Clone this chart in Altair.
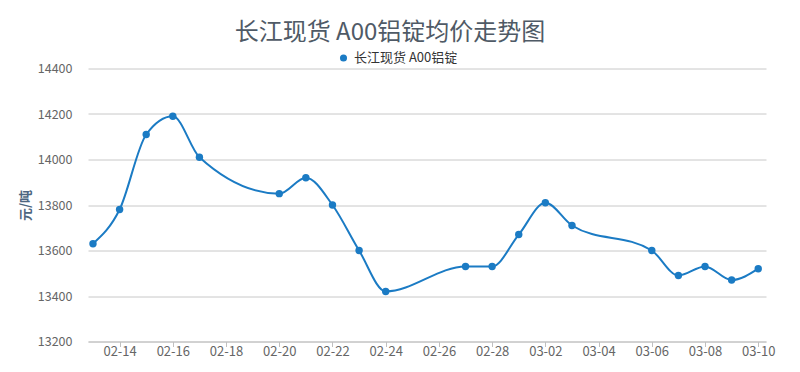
import altair as alt
import pandas as pd

dates = ["2017/02/13", "2017/02/14", "2017/02/15", "2017/02/16", "2017/02/17",
         "2017/02/20", "2017/02/21", "2017/02/22", "2017/02/23", "2017/02/24",
         "2017/02/27", "2017/02/28", "2017/03/01", "2017/03/02", "2017/03/03",
         "2017/03/06", "2017/03/07", "2017/03/08", "2017/03/09", "2017/03/10"]
prices = [13630, 13780, 14110, 14190, 14010,
          13850, 13920, 13800, 13600, 13420,
          13530, 13530, 13670, 13810, 13710,
          13600, 13490, 13530, 13470, 13520]
series_name = "长江现货 A00铝锭"
y_ticks = [13200, 13400, 13600, 13800, 14000, 14200, 14400]
x_tick_days = [(2, 14), (2, 16), (2, 18), (2, 20), (2, 22), (2, 24), (2, 26), (2, 28),
               (3, 2), (3, 4), (3, 6), (3, 8), (3, 10)]

df = pd.DataFrame({"date": dates, "price": prices, "series": [series_name] * len(dates)})

FONT = "Noto Sans CJK SC"
LINE_COLOR = "#1b7bc4"

x_enc = alt.X(
    "date:T",
    scale=alt.Scale(domain=[alt.DateTime(year=2017, month=2, date=12, hours=19, minutes=30),
                            alt.DateTime(year=2017, month=3, date=10, hours=7)]),
    axis=alt.Axis(
        title=None, format="%m-%d", grid=False,
        values=[alt.DateTime(year=2017, month=m, date=d) for m, d in x_tick_days],
        labelColor="#666666", labelFontSize=13, labelFont=FONT, labelPadding=-1,
        domainColor="#c0c0c0", tickColor="#c0c0c0", tickSize=5, labelFlush=False,
    ),
)
y_enc = alt.Y(
    "price:Q",
    scale=alt.Scale(domain=[13200, 14400], nice=False, zero=False),
    axis=alt.Axis(
        title="元/吨", titleColor="#4d6680", titleFontSize=13, titleFont=FONT,
        titleFontWeight="bold", titlePadding=5,
        values=y_ticks, format="d", labelColor="#666666", labelFontSize=12.5, labelFont=FONT,
        labelPadding=16, domain=False, ticks=False,
        gridColor="#c8c8c8", gridWidth=1,
    ),
)
color_enc = alt.Color(
    "series:N",
    scale=alt.Scale(range=[LINE_COLOR]),
    legend=alt.Legend(
        title=None, orient="none", legendX=249, legendY=-17, direction="horizontal",
        symbolType="circle", symbolSize=50, symbolStrokeWidth=0,
        labelFont=FONT, labelFontSize=13, labelColor="#333333",
    ),
)

line = alt.Chart(df).mark_line(interpolate="monotone", strokeWidth=2).encode(
    x=x_enc, y=y_enc, color=color_enc
)
points = alt.Chart(df).mark_point(filled=True, size=55, opacity=1).encode(
    x=x_enc, y=y_enc, color=alt.Color("series:N", legend=None)
)

chart = alt.layer(line, points).properties(
    width=678, height=273,
    background="white",
    padding={"left": 80, "top": 60.5, "right": 26, "bottom": 30},
    autosize=alt.AutoSizeParams(type="none"),
    title=alt.TitleParams(
        text="长江现货 A00铝锭均价走势图", anchor="middle", frame="group",
        fontSize=24, font=FONT, fontWeight="normal", color="#4f5a66", dx=-37, offset=7,
    ),
).configure_view(strokeWidth=0, stroke="transparent")

chart.save("out.html", embed_options={"renderer": "svg", "actions": False})
